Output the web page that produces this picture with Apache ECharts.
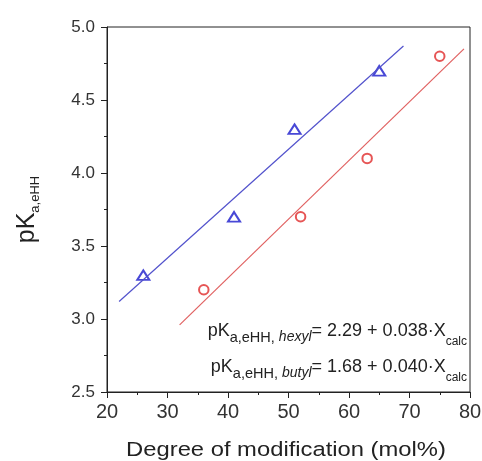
<!DOCTYPE html>
<html><head><meta charset="utf-8">
<script src="https://cdn.jsdelivr.net/npm/echarts@6/dist/echarts.min.js"></script>
<style>html,body{margin:0;padding:0;background:#fff}#c{width:482px;height:461px}</style>
</head><body><div id="c"></div>
<script>
const hexylX = [26, 41, 51, 65];
const hexylY = [3.3, 3.7, 4.3, 4.7];
const butylX = [36, 52, 63, 75];
const butylY = [3.2, 3.7, 4.1, 4.8];
const hexylFitX = [22, 69];
const hexylFitY = [3.12, 4.87];
const butylFitX = [32, 79];
const butylFitY = [2.96, 4.85];
const xTicks = [20, 30, 40, 50, 60, 70, 80];
const yTicks = [2.5, 3.0, 3.5, 4.0, 4.5, 5.0];
const xTitle = 'Degree of modification (mol%)';
const eqHexyl = ['hexyl', '= 2.29 + 0.038·X'];
const eqButyl = ['butyl', '= 1.68 + 0.040·X'];

const zip = (a, b) => a.map((v, i) => [v, b[i]]);
const FONT = 'Liberation Sans, Arial, sans-serif';
const chart = echarts.init(document.getElementById('c'));
const axisCol = '#222';
const eqRich = {
  p: { fontFamily: FONT, fontSize: 18, fill: '#222', verticalAlign: 'top' },
  s: { fontFamily: FONT, fontSize: 14.5, fill: '#222', verticalAlign: 'top', padding: [8, 0, 0, 0] },
  i: { fontFamily: FONT, fontSize: 14, fill: '#222', fontStyle: 'italic', verticalAlign: 'top', padding: [8.5, 0, 0, 0] },
  c: { fontFamily: FONT, fontSize: 12, fill: '#222', verticalAlign: 'top', padding: [14, 0, 0, 0] }
};
const eqText = e => '{p|pK}{s|a,eHH, }{i|' + e[0] + '}{p|' + e[1] + '}{c|calc}';
chart.setOption({
  animation: false,
  grid: { left: 107, right: 12, top: 27, bottom: 69, show: true, borderColor: axisCol, borderWidth: 1,
          outerBoundsMode: 'none', containLabel: false },
  xAxis: {
    type: 'value', min: xTicks[0], max: xTicks[xTicks.length - 1], interval: 10,
    axisLine: { lineStyle: { color: axisCol } },
    axisTick: { inside: false, length: 6, lineStyle: { color: axisCol } },
    minorTick: { show: true, splitNumber: 2, length: 3, lineStyle: { color: axisCol } },
    splitLine: { show: false },
    axisLabel: { fontFamily: FONT, fontSize: 20, color: '#333', margin: 10,
      formatter: v => xTicks.includes(v) ? String(v) : '' }
  },
  yAxis: {
    type: 'value', min: yTicks[0], max: yTicks[yTicks.length - 1], interval: 0.5,
    name: '{a|pK}{b|a,eHH}', nameLocation: 'middle', nameGap: 65, nameRotate: 90,
    nameTextStyle: { fontFamily: FONT, color: '#222',
      rich: { a: { fontFamily: FONT, fontSize: 25, color: '#222', verticalAlign: 'top' },
              b: { fontFamily: FONT, fontSize: 13, color: '#222', verticalAlign: 'top', padding: [14, 0, 0, 0] } } },
    axisLine: { lineStyle: { color: axisCol } },
    axisTick: { inside: false, length: 6, lineStyle: { color: axisCol } },
    minorTick: { show: true, splitNumber: 2, length: 3, lineStyle: { color: axisCol } },
    splitLine: { show: false },
    axisLabel: { fontFamily: FONT, fontSize: 17, color: '#333', margin: 12,
      formatter: v => v.toFixed(1) }
  },
  series: [
    { type: 'line', data: zip(hexylFitX, hexylFitY), symbol: 'none', silent: true,
      lineStyle: { color: '#5252cc', width: 1.2 } },
    { type: 'line', data: zip(butylFitX, butylFitY), symbol: 'none', silent: true,
      lineStyle: { color: '#e06060', width: 1.2 } },
    { type: 'scatter', data: zip(hexylX, hexylY), symbol: 'triangle', symbolSize: [12, 9.5],
      itemStyle: { color: 'transparent', borderColor: '#1a1acc', borderWidth: 2 } },
    { type: 'scatter', data: zip(butylX, butylY), symbol: 'circle', symbolSize: 9.5,
      itemStyle: { color: 'transparent', borderColor: '#e02a2a', borderWidth: 2 } }
  ],
  graphic: [
    { type: 'text', x: 286, y: 450, scaleX: 1.16, style: {
      text: xTitle, x: 0, y: 0, align: 'center', verticalAlign: 'middle',
      fontFamily: FONT, fontSize: 20.5, fill: '#222' } },
    { type: 'text', right: 15, top: 322, style: { text: eqText(eqHexyl), rich: eqRich } },
    { type: 'text', right: 15, top: 358, style: { text: eqText(eqButyl), rich: eqRich } }
  ]
});
</script></body></html>
